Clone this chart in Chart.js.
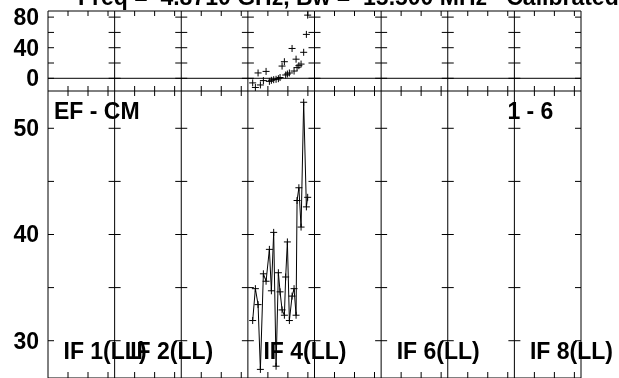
<!DOCTYPE html>
<html lang="en">
<head>
    <meta charset="UTF-8">
    <title>EF - CM  IF 4 (LL)</title>
    <script src="https://cdn.jsdelivr.net/npm/chart.js"></script>
    <style>
        body { margin: 0; background: #fff; }
        canvas { display: block; }
    </style>
</head>
<body>
    <canvas id="plot" width="619" height="378"></canvas>
    <script>
        // channel offsets inside the IF 4 panel
        const chan = [4.8, 7.5, 10.2, 12.5, 15.5, 18.2, 21.5, 23.5, 25.8, 28.2, 30.5, 32.2, 34.2,
                      36.5, 37.8, 39.5, 41.5, 44.2, 46.2, 48.2, 49.2, 51.0, 53.2, 55.8, 58.5, 59.8];
        // upper panel (phase-like, plotted as crosses only)
        const upperVals = [-6, -12, 7, -8.7, -3, 9, -4, -2.6, -1.8, -1.3, -0.5, 1, 16,
                           21.7, 4.3, 5.6, 7, 39, 9.5, 25, 14, 16.5, 18.6, 34, 57.4, 82.6];
        // lower panel (amplitude, joined)
        const lowerVals = [31.9, 34.9, 33.4, 27.3, 36.3, 35.6, 38.6, 34.7, 40.2, 27.6, 36.4, 34.6, 32.9,
                           32.4, 36.0, 39.3, 31.9, 34.2, 34.9, 32.4, 43.2, 44.4, 40.7, 52.45, 42.6, 43.5];

        const ifLabels = ['IF 1(LL)', 'IF 2(LL)', null, 'IF 4(LL)', null, 'IF 6(LL)', null, 'IF 8(LL)'];
        const dataIF = 4;
        const chanTicks = [20, 40, 60];
        const upperTicks = [0, 20, 40, 60, 80];
        const upperLabels = [0, 40, 80];
        const lowerTicks = [30, 35, 40, 45, 50];
        const lowerLabels = [30, 40, 50];
        const baseline = 'EF - CM';
        const stokesTag = '1 - 6';
        const title = 'Freq =  4.8710 GHz, Bw =  15.500 MHz   Calibrated with CL  2';

        const PANEL = 66.625;
        const NIF = ifLabels.length;
        const xs = chan.map(c => (dataIF - 1) * PANEL + c);
        const FONT = 'bold 23px "Liberation Sans", Arial, sans-serif';

        const frame = {
            id: 'frame',
            beforeDatasetsDraw(chart) {
                const { ctx, scales } = chart;
                const x = scales.x, yt = scales.yTop, ym = scales.yMain;
                const top = yt.top, mid = yt.bottom, bot = ym.bottom;
                ctx.save();
                ctx.strokeStyle = '#000';
                ctx.lineWidth = 1;
                ctx.beginPath();
                // outer and panel separators
                for (let i = 0; i <= NIF; i++) {
                    const px = x.getPixelForValue(i * PANEL);
                    ctx.moveTo(px, top); ctx.lineTo(px, bot);
                    for (const v of upperTicks) {
                        const py = yt.getPixelForValue(v);
                        ctx.moveTo(px - (i > 0 ? 6 : 0), py); ctx.lineTo(px + (i < NIF ? 6 : 0), py);
                    }
                    for (const v of lowerTicks) {
                        const py = ym.getPixelForValue(v);
                        ctx.moveTo(px - (i > 0 ? 6 : 0), py); ctx.lineTo(px + (i < NIF ? 6 : 0), py);
                    }
                    if (i < NIF) {
                        for (const c of chanTicks) {
                            const cx = x.getPixelForValue(i * PANEL + c);
                            ctx.moveTo(cx, top); ctx.lineTo(cx, top + 5);
                            ctx.moveTo(cx, mid - 5); ctx.lineTo(cx, mid + 5);
                            ctx.moveTo(cx, bot); ctx.lineTo(cx, bot - 6);
                        }
                    }
                }
                const l = x.getPixelForValue(0), r = x.getPixelForValue(NIF * PANEL);
                ctx.moveTo(l, top); ctx.lineTo(r, top);
                ctx.moveTo(l, mid); ctx.lineTo(r, mid);
                ctx.moveTo(l, bot); ctx.lineTo(r, bot);
                const zero = yt.getPixelForValue(0);
                ctx.moveTo(l, zero); ctx.lineTo(r, zero);
                ctx.stroke();
                ctx.restore();
            },
            afterDraw(chart) {
                const { ctx, scales } = chart;
                const x = scales.x, yt = scales.yTop, ym = scales.yMain;
                ctx.save();
                ctx.fillStyle = '#000';
                ctx.font = FONT;
                ctx.textAlign = 'right';
                ctx.textBaseline = 'middle';
                for (const v of upperLabels) ctx.fillText(String(v), 39, yt.getPixelForValue(v) + 1.5);
                for (const v of lowerLabels) ctx.fillText(String(v), 39, ym.getPixelForValue(v) + 1.5);
                ctx.textAlign = 'left';
                ctx.textBaseline = 'alphabetic';
                const l = x.getPixelForValue(0);
                ctx.fillText(baseline, l + 6, ym.top + 28);
                ctx.fillText(stokesTag, x.getPixelForValue(7 * PANEL) - 7, ym.top + 28);
                ifLabels.forEach((t, i) => {
                    if (t) ctx.fillText(t, x.getPixelForValue(i * PANEL) + 15.5, 359);
                });
                ctx.fillText(title, 78, 5);
                ctx.restore();
            }
        };

        new Chart(document.getElementById('plot'), {
            type: 'line',
            data: {
                datasets: [
                    {
                        data: xs.map((v, i) => ({ x: v, y: upperVals[i] })),
                        yAxisID: 'yTop',
                        showLine: false,
                        pointStyle: 'cross',
                        pointRadius: 3.5,
                        borderColor: '#000',
                        borderWidth: 1
                    },
                    {
                        data: xs.map((v, i) => ({ x: v, y: lowerVals[i] })),
                        yAxisID: 'yMain',
                        pointStyle: 'cross',
                        pointRadius: 3.5,
                        borderColor: '#000',
                        borderWidth: 1,
                        tension: 0
                    }
                ]
            },
            options: {
                responsive: false,
                animation: false,
                devicePixelRatio: 1,
                layout: { autoPadding: false, padding: { left: 48, right: 38, top: 11, bottom: 0 } },
                plugins: { legend: { display: false }, tooltip: { enabled: false } },
                scales: {
                    x: { type: 'linear', min: 0, max: NIF * PANEL, display: false },
                    // stacked bottom-up: the lower panel is listed first
                    yMain: { type: 'linear', position: 'left', stack: 'panels', stackWeight: 287,
                             min: 26.49, max: 53.51, display: false },
                    yTop: { type: 'linear', position: 'left', stack: 'panels', stackWeight: 80,
                            min: -16.6, max: 88, display: false }
                }
            },
            plugins: [frame]
        });
    </script>
</body>
</html>
